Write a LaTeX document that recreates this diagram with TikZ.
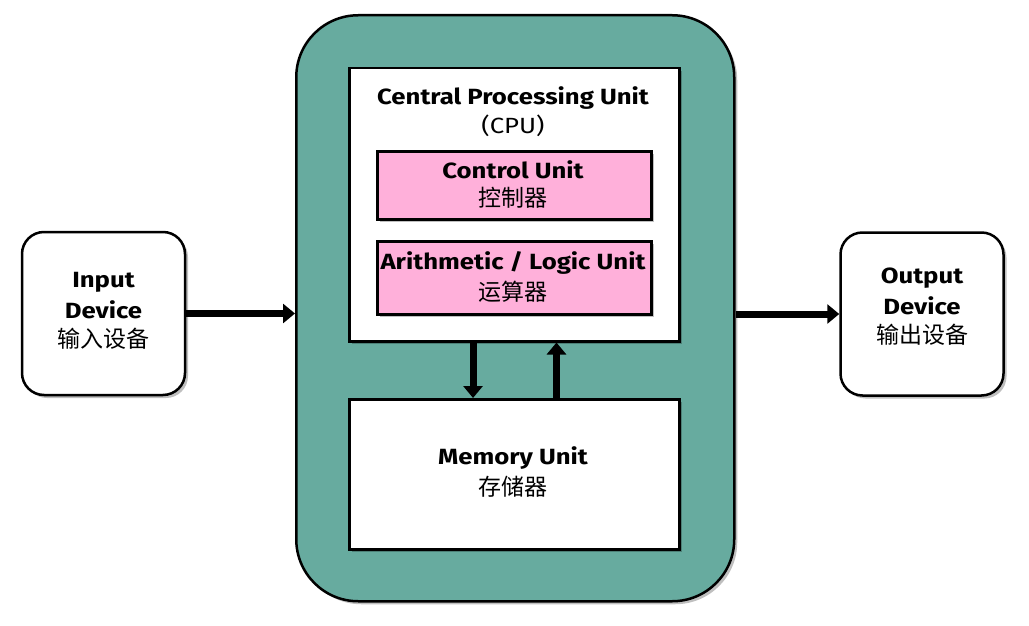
\documentclass[tikz,border=0pt]{standalone}
\usepackage{fontspec}
\setmainfont{Fira Sans}[FakeStretch=1.17]
\newfontfamily\cjk{Noto Sans CJK SC}
\usetikzlibrary{arrows.meta,shadows,calc}
\definecolor{outergreen}{HTML}{67AB9F}
\definecolor{boxpink}{HTML}{FFB0DA}
\tikzset{
  shad/.style={drop shadow={shadow xshift=3pt,shadow yshift=-3pt,fill=black,opacity=0.25}},
  box/.style={draw=black,line width=2.5pt,fill=white,shad,align=center,inner sep=0pt},
  pinkbox/.style={box,fill=boxpink},
  devbox/.style={box,rounded corners=22pt,minimum width=163pt,minimum height=163pt},
  en/.style={font=\fontsize{22}{26}\selectfont\bfseries},
  zh/.style={font=\fontsize{23}{26}\selectfont\cjk},
  arr/.style={line width=7pt,-{Triangle[width=19pt,length=12pt]}},
}
\begin{document}
\begin{tikzpicture}[x=1pt,y=-1pt]
\useasboundingbox (0,0) rectangle (1029,626);
% outer green
\node[box,fill=outergreen,rounded corners=62pt,minimum width=438pt,minimum height=586pt,anchor=north west] (outer) at (295,14) {};
% CPU
\node[box,minimum width=330pt,minimum height=273pt,anchor=north west] (cpu) at (348,67) {};
\node[en] (cputitle) at (513,98) {Central Processing Unit};
\node[font=\fontsize{22}{24}\selectfont] (cpuabbr) at (513,126) {(CPU)};
% Control unit
\node[pinkbox,minimum width=274pt,minimum height=68pt,anchor=north west] (cu) at (376,150) {};
\node[en] (cut) at (513,170) {Control Unit};
\node[zh] (cuz) at (513,198) {控制器};
% ALU
\node[pinkbox,minimum width=274pt,minimum height=73pt,anchor=north west] (alu) at (376,240) {};
\node[en] (alut) at (513,263) {Arithmetic / Logic Unit};
\node[zh] (aluz) at (513,292) {运算器};
% Memory
\node[box,minimum width=330pt,minimum height=150pt,anchor=north west] (mem) at (348,398) {};
\node[en] (memt) at (513,458) {Memory Unit};
\node[zh] (memz) at (513,487) {存储器};
% Input / output devices
\node[devbox] (in) at (103.5,313.5) {};
\node[en] (int1) at (103.5,282) {Input};
\node[en] (int2) at (103.5,310) {Device};
\node[zh] (inz) at (103.5,339) {输入设备};
\node[devbox] (out) at (922,314) {};
\node[en] (outt1) at (922,278) {Output};
\node[en] (outt2) at (922,306) {Device};
\node[zh] (outz) at (922,335) {输出设备};
% arrows
\draw[arr] (in.east) -- (in.east -| outer.west);
\draw[arr] (out.west -| outer.east) -- (out.west);
\draw[arr] ($(cpu.south west)!0.376!(cpu.south east)$) -- ($(mem.north west)!0.376!(mem.north east)$);
\draw[arr] ($(mem.north west)!0.627!(mem.north east)$) -- ($(cpu.south west)!0.627!(cpu.south east)$);
\end{tikzpicture}
\end{document}
